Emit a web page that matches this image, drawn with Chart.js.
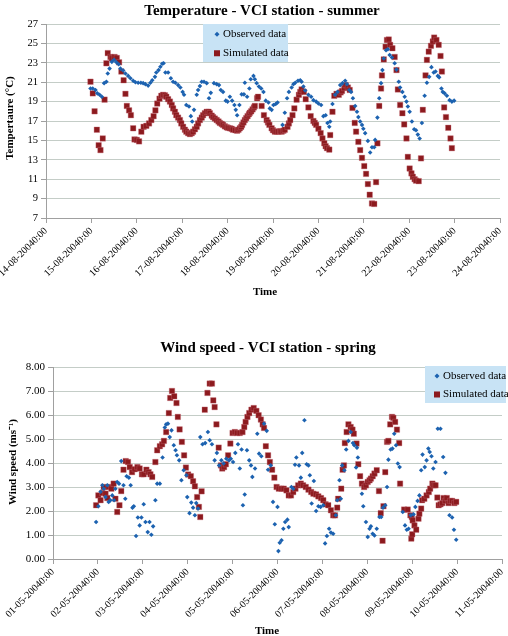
<!DOCTYPE html>
<html>
<head>
<meta charset="utf-8">
<script src="https://cdn.jsdelivr.net/npm/chart.js@4.4.1/dist/chart.umd.min.js"></script>
<style>
html,body{margin:0;padding:0;background:#fff;}
.box{position:absolute;left:0;width:508px;height:318px;}
canvas{display:block;}
</style>
</head>
<body>
<div class="box" style="top:0"><canvas id="c1" width="508" height="318"></canvas></div>
<div class="box" style="top:318px"><canvas id="c2" width="508" height="318"></canvas></div>
<script>
// ---------- DATA ----------
const seriesNames = ['Observed data', 'Simulated data'];

// Top chart: x = days after 14-08-2004 0:00, y = temperature (°C)
const tempTickLabels = ['14-08-20040:00','15-08-20040:00','16-08-20040:00','17-08-20040:00','18-08-20040:00','19-08-20040:00','20-08-20040:00','21-08-20040:00','22-08-20040:00','23-08-20040:00','24-08-20040:00'];
const tempObserved = [[0.98,20.35],[1.03,20.35],[1.09,20.2],[1.13,19.85],[1.18,19.7],[1.23,19.5],[1.28,20.9],[1.33,21.05],[1.36,21.9],[1.40,22.4],[1.45,23.1],[1.50,23.3],[1.55,23.05],[1.60,22.85],[1.64,22.4],[1.70,22.2],[1.75,21.9],[1.81,21.65],[1.86,21.4],[1.92,21.15],[1.97,21.0],[2.03,20.95],[2.09,20.95],[2.14,20.9],[2.19,20.8],[2.25,20.65],[2.30,20.95],[2.34,21.2],[2.40,21.55],[2.43,22.0],[2.48,22.25],[2.52,22.6],[2.56,22.9],[2.59,22.95],[2.63,22.0],[2.69,22.0],[2.75,21.4],[2.80,21.05],[2.85,20.95],[2.91,20.7],[2.96,20.45],[3.01,20.0],[3.04,19.7],[3.09,18.65],[3.15,18.5],[3.19,17.5],[3.22,16.95],[3.26,18.15],[3.32,19.7],[3.35,20.2],[3.39,20.6],[3.43,21.05],[3.48,21.05],[3.54,20.9],[3.59,19.35],[3.63,19.9],[3.70,20.9],[3.76,20.8],[3.81,20.7],[3.85,20.2],[3.90,20.0],[3.96,19.1],[4.00,19.0],[4.05,19.5],[4.10,19.1],[4.15,18.65],[4.18,18.15],[4.21,17.6],[4.26,18.65],[4.31,19.75],[4.36,19.75],[4.38,20.95],[4.43,19.5],[4.48,20.35],[4.51,21.3],[4.57,21.65],[4.60,21.3],[4.64,20.9],[4.69,20.55],[4.74,20.35],[4.79,20.0],[4.84,19.1],[4.90,18.9],[4.93,18.3],[4.97,18.15],[5.01,18.65],[5.06,18.75],[5.10,18.9],[5.21,16.6],[5.26,17.85],[5.31,19.35],[5.35,20.0],[5.41,20.45],[5.45,20.8],[5.49,20.95],[5.55,21.15],[5.60,21.2],[5.63,21.05],[5.67,20.55],[5.71,20.15],[5.78,19.7],[5.84,19.5],[5.89,19.15],[5.95,19.0],[6.00,18.8],[6.06,18.65],[6.11,17.5],[6.16,17.6],[6.20,16.8],[6.24,16.4],[6.26,16.95],[6.31,18.75],[6.37,19.7],[6.42,20.0],[6.48,20.7],[6.53,20.9],[6.59,21.15],[6.63,20.8],[6.68,20.2],[6.72,20.0],[6.76,19.35],[6.81,18.55],[6.85,17.95],[6.88,17.4],[6.92,16.95],[6.96,16.6],[6.99,16.2],[7.03,15.75],[7.09,14.95],[7.14,13.75],[7.18,14.3],[7.23,14.3],[7.25,15.05],[7.30,17.35],[7.34,19.35],[7.38,20.9],[7.41,22.25],[7.44,23.45],[7.49,24.3],[7.53,24.4],[7.57,23.8],[7.62,23.55],[7.68,22.95],[7.72,22.3],[7.77,21.05],[7.80,20.45],[7.85,20.0],[7.90,19.5],[7.94,19.0],[7.97,18.5],[8.01,17.95],[8.06,16.95],[8.11,16.15],[8.15,16.05],[8.19,15.6],[8.23,15.2],[8.28,16.8],[8.34,19.6],[8.39,20.95],[8.44,21.55],[8.49,22.55],[8.54,22.0],[8.58,22.1],[8.63,21.65],[8.66,21.5],[8.71,20.35],[8.74,20.0],[8.78,19.85],[8.83,19.6],[8.89,19.15],[8.94,19.0],[8.99,19.1]];
const tempSimulated = [[0.98,21.05],[1.03,19.85],[1.07,18.0],[1.12,16.1],[1.16,14.5],[1.20,14.0],[1.25,15.2],[1.29,19.2],[1.33,22.95],[1.36,24.0],[1.42,23.6],[1.45,23.45],[1.51,23.6],[1.56,23.5],[1.61,23.05],[1.66,22.1],[1.71,21.2],[1.75,19.8],[1.78,18.55],[1.83,18.1],[1.87,17.6],[1.92,16.25],[1.95,15.1],[2.00,15.05],[2.05,14.9],[2.10,15.9],[2.15,16.4],[2.21,16.5],[2.27,16.75],[2.32,17.1],[2.37,17.5],[2.41,18.1],[2.45,18.8],[2.50,19.3],[2.54,19.6],[2.58,19.7],[2.62,19.65],[2.65,19.5],[2.69,19.25],[2.73,19.0],[2.77,18.65],[2.80,18.3],[2.84,17.95],[2.87,17.6],[2.91,17.35],[2.95,17.1],[2.98,16.75],[3.02,16.4],[3.06,16.1],[3.09,15.9],[3.13,15.75],[3.17,15.65],[3.21,15.75],[3.24,15.9],[3.28,16.15],[3.32,16.4],[3.35,16.75],[3.39,17.1],[3.43,17.35],[3.46,17.6],[3.50,17.8],[3.54,17.95],[3.58,17.95],[3.61,17.8],[3.65,17.55],[3.68,17.4],[3.72,17.25],[3.76,17.1],[3.80,16.95],[3.83,16.8],[3.87,16.7],[3.90,16.6],[3.94,16.45],[3.98,16.35],[4.01,16.3],[4.05,16.25],[4.09,16.2],[4.12,16.1],[4.17,16.05],[4.21,16.0],[4.24,16.1],[4.27,16.25],[4.30,16.4],[4.32,16.6],[4.35,16.85],[4.38,17.1],[4.41,17.3],[4.44,17.5],[4.47,17.7],[4.49,17.85],[4.52,18.0],[4.55,18.2],[4.58,18.4],[4.60,18.55],[4.65,19.35],[4.67,19.5],[4.75,18.55],[4.80,17.6],[4.86,17.1],[4.89,16.85],[4.92,16.6],[4.97,16.25],[5.00,16.05],[5.04,15.9],[5.08,15.9],[5.12,15.9],[5.16,15.95],[5.19,15.9],[5.23,16.0],[5.26,16.1],[5.32,16.4],[5.35,16.75],[5.38,17.1],[5.43,17.6],[5.47,18.3],[5.52,19.2],[5.57,19.7],[5.60,20.0],[5.63,20.25],[5.68,20.0],[5.72,19.25],[5.78,18.4],[5.83,17.5],[5.89,17.0],[5.92,16.8],[5.95,16.6],[6.00,16.2],[6.05,15.75],[6.09,15.2],[6.13,14.7],[6.16,14.4],[6.19,14.2],[6.24,14.05],[6.26,15.55],[6.31,17.95],[6.35,19.6],[6.40,19.8],[6.45,19.7],[6.49,19.95],[6.52,20.1],[6.57,20.4],[6.60,20.7],[6.65,20.45],[6.69,20.2],[6.75,18.35],[6.80,16.8],[6.83,15.9],[6.88,14.85],[6.92,14.0],[6.96,13.2],[7.01,12.35],[7.05,11.55],[7.09,10.5],[7.13,9.4],[7.18,8.5],[7.23,8.45],[7.27,10.7],[7.30,14.7],[7.34,18.55],[7.38,20.35],[7.40,21.7],[7.44,23.35],[7.48,24.65],[7.51,25.35],[7.55,25.4],[7.58,24.85],[7.63,24.5],[7.68,23.6],[7.72,22.25],[7.75,20.25],[7.80,18.65],[7.85,17.8],[7.89,16.65],[7.94,15.2],[7.97,13.3],[8.01,12.1],[8.05,11.6],[8.08,11.25],[8.12,11.0],[8.15,10.85],[8.21,10.8],[8.26,13.15],[8.30,18.15],[8.36,21.7],[8.39,23.3],[8.43,24.15],[8.48,24.75],[8.52,25.2],[8.55,25.6],[8.60,25.35],[8.65,24.85],[8.69,23.7],[8.72,22.1],[8.77,18.4],[8.81,17.4],[8.86,16.3],[8.91,15.2],[8.94,14.2]];

// Bottom chart: x = days after 01-05-2004 0:00, y = wind speed (m/s)
const windTickLabels = ['01-05-20040:00','02-05-20040:00','03-05-20040:00','04-05-20040:00','05-05-20040:00','06-05-20040:00','07-05-20040:00','08-05-20040:00','09-05-20040:00','10-05-20040:00','11-05-20040:00'];
const windObserved = [[0.96,1.54],[1.01,2.2],[1.06,2.8],[1.10,3.07],[1.13,2.93],[1.17,2.58],[1.21,3.07],[1.24,2.38],[1.28,2.45],[1.32,2.65],[1.36,2.45],[1.39,2.93],[1.43,3.21],[1.47,3.14],[1.52,4.08],[1.57,3.07],[1.61,2.51],[1.64,3.45],[1.69,3.39],[1.73,3.07],[1.77,2.14],[1.80,2.2],[1.85,0.96],[1.89,1.73],[1.93,1.4],[1.97,1.73],[2.02,2.28],[2.06,1.54],[2.11,1.12],[2.15,1.54],[2.19,1.01],[2.23,1.36],[2.28,2.45],[2.32,3.14],[2.38,3.14],[2.44,4.23],[2.49,5.48],[2.52,5.61],[2.56,5.64],[2.60,5.08],[2.64,5.36],[2.69,4.74],[2.73,4.53],[2.76,4.32],[2.81,4.11],[2.86,3.28],[2.91,3.7],[2.97,3.49],[2.99,2.58],[3.04,1.91],[3.08,2.35],[3.12,2.14],[3.16,1.82],[3.19,2.33],[3.23,2.1],[3.28,5.08],[3.33,4.78],[3.39,4.83],[3.45,5.29],[3.49,4.95],[3.54,4.78],[3.60,4.11],[3.65,4.42],[3.70,3.9],[3.75,4.11],[3.80,3.98],[3.86,4.18],[3.92,4.11],[3.96,4.18],[4.01,4.04],[4.06,4.42],[4.12,4.78],[4.16,3.77],[4.20,4.56],[4.23,2.24],[4.27,2.69],[4.32,4.53],[4.37,4.11],[4.41,3.9],[4.44,3.42],[4.50,3.77],[4.55,5.22],[4.59,4.39],[4.64,4.28],[4.70,5.64],[4.76,5.34],[4.79,3.72],[4.85,3.9],[4.90,2.38],[4.94,1.45],[5.00,2.17],[5.02,0.33],[5.05,0.68],[5.09,0.78],[5.13,1.26],[5.17,1.54],[5.22,1.64],[5.25,1.33],[5.31,3.0],[5.35,2.93],[5.39,3.93],[5.42,4.23],[5.48,3.9],[5.52,3.39],[5.55,4.42],[5.60,5.78],[5.65,3.95],[5.69,3.9],[5.72,3.49],[5.76,2.31],[5.81,3.25],[5.86,2.0],[5.91,2.2],[5.96,2.17],[6.02,2.24],[6.06,0.65],[6.10,0.96],[6.15,1.26],[6.19,1.1],[6.24,1.05],[6.30,1.82],[6.33,2.45],[6.38,3.28],[6.41,2.51],[6.44,3.9],[6.49,3.7],[6.53,4.56],[6.58,4.92],[6.63,5.29],[6.68,4.83],[6.71,4.74],[6.75,3.81],[6.77,4.64],[6.79,4.23],[6.88,2.72],[6.91,2.2],[6.97,1.54],[7.01,0.92],[7.05,1.26],[7.08,1.36],[7.12,1.05],[7.16,0.98],[7.21,1.26],[7.27,1.75],[7.31,1.75],[7.35,2.14],[7.40,2.24],[7.44,3.0],[7.47,4.14],[7.52,4.56],[7.56,4.6],[7.60,5.22],[7.64,4.74],[7.68,3.98],[7.72,3.83],[7.79,1.96],[7.84,1.4],[7.88,1.22],[7.92,1.26],[7.97,1.82],[8.03,1.86],[8.07,2.17],[8.12,2.42],[8.16,2.65],[8.20,3.7],[8.23,4.35],[8.28,3.83],[8.32,4.11],[8.36,4.6],[8.39,4.46],[8.43,4.28],[8.47,3.77],[8.52,4.04],[8.57,5.43],[8.63,5.43],[8.69,4.25],[8.74,3.59],[8.83,1.82],[8.89,1.73],[8.93,1.22],[8.98,0.8]];
const windSimulated = [[0.96,2.24],[1.01,2.65],[1.06,2.45],[1.10,2.75],[1.13,3.0],[1.17,2.72],[1.21,2.54],[1.24,3.0],[1.30,2.93],[1.35,3.14],[1.39,2.51],[1.43,1.96],[1.48,2.24],[1.52,2.83],[1.57,3.72],[1.62,4.08],[1.67,4.04],[1.71,3.83],[1.76,3.62],[1.82,3.74],[1.88,3.83],[1.93,3.77],[1.98,3.53],[2.02,3.53],[2.08,3.72],[2.13,3.62],[2.17,3.53],[2.21,3.42],[2.28,4.04],[2.32,4.53],[2.38,4.7],[2.43,4.78],[2.47,4.92],[2.52,5.29],[2.58,6.08],[2.61,6.71],[2.65,7.0],[2.70,6.78],[2.75,6.5],[2.78,5.92],[2.82,5.4],[2.87,4.88],[2.92,4.32],[2.96,3.81],[3.01,3.52],[3.07,3.45],[3.12,3.24],[3.16,3.03],[3.21,2.58],[3.25,2.17],[3.28,1.75],[3.31,2.82],[3.38,6.22],[3.44,6.92],[3.49,7.31],[3.54,7.31],[3.57,6.61],[3.60,6.33],[3.64,5.61],[3.69,4.64],[3.74,3.9],[3.77,3.77],[3.81,3.83],[3.85,3.95],[3.90,4.32],[3.95,4.81],[4.00,5.25],[4.05,5.29],[4.10,5.25],[4.16,5.25],[4.22,5.29],[4.26,5.5],[4.29,5.71],[4.33,5.92],[4.37,6.08],[4.42,6.22],[4.47,6.29],[4.53,6.17],[4.58,5.99],[4.63,5.81],[4.67,5.61],[4.70,5.46],[4.74,4.7],[4.79,4.32],[4.83,4.04],[4.88,3.72],[4.93,3.39],[4.98,3.0],[5.03,2.93],[5.09,2.93],[5.14,2.93],[5.20,2.86],[5.25,2.65],[5.30,2.65],[5.35,2.79],[5.40,2.93],[5.46,3.07],[5.52,3.14],[5.57,3.07],[5.63,3.0],[5.69,2.89],[5.75,2.79],[5.80,2.72],[5.86,2.69],[5.91,2.61],[5.97,2.54],[6.02,2.45],[6.07,2.28],[6.13,2.24],[6.19,2.03],[6.24,1.82],[6.28,1.82],[6.33,2.14],[6.35,2.51],[6.42,2.93],[6.45,3.72],[6.48,3.9],[6.50,4.83],[6.54,5.29],[6.58,5.61],[6.63,5.5],[6.67,5.39],[6.70,5.22],[6.76,4.81],[6.80,3.95],[6.84,3.45],[6.88,3.14],[6.93,3.0],[6.97,3.07],[7.01,3.21],[7.05,3.28],[7.08,3.35],[7.12,3.45],[7.16,3.56],[7.21,3.7],[7.26,2.83],[7.30,1.91],[7.34,0.76],[7.36,2.2],[7.40,3.62],[7.44,4.88],[7.47,4.92],[7.51,5.61],[7.55,5.92],[7.58,5.88],[7.62,5.71],[7.66,5.39],[7.71,4.83],[7.73,3.14],[7.82,2.06],[7.90,2.06],[7.96,1.82],[7.98,0.85],[7.99,1.75],[8.00,1.03],[8.01,1.61],[8.05,1.4],[8.09,1.22],[8.14,1.68],[8.16,1.89],[8.20,2.1],[8.22,2.45],[8.27,2.51],[8.32,2.65],[8.37,2.79],[8.40,2.93],[8.45,3.14],[8.48,3.07],[8.52,3.07],[8.56,2.56],[8.59,2.24],[8.63,2.28],[8.67,2.33],[8.70,2.54],[8.74,2.42],[8.77,2.54],[8.81,2.33],[8.85,2.42],[8.89,2.42],[8.94,2.33],[8.98,2.38]];

// ---------- STYLE ----------
const FONT = '"Liberation Serif", "Times New Roman", serif';
const OBS_COLOR = '#1c62b0';
const SIM_COLOR = '#8c1a1e';
const GRID_COLOR = '#c4cdc7';
const AXIS_COLOR = '#a0a0a0';
const LEGEND_BG = '#c8e3f5';

const overlayPlugin = {
  id: 'overlay',
  afterDraw(chart, args, o) {
    const ctx = chart.ctx;
    ctx.save();
    ctx.fillStyle = '#000';
    ctx.textAlign = 'center';
    ctx.textBaseline = 'middle';
    ctx.font = 'bold 15px ' + FONT;
    ctx.fillText(o.title, o.titleX, o.titleY);
    ctx.font = 'bold 11px ' + FONT;
    ctx.fillText(o.xTitle, o.xTitleX, o.xTitleY);
    ctx.save();
    ctx.translate(o.yTitleX, o.yTitleY);
    ctx.rotate(-Math.PI / 2);
    ctx.fillText(o.yTitle, 0, 0);
    ctx.restore();
    // legend
    const L = o.legend;
    ctx.fillStyle = LEGEND_BG;
    ctx.fillRect(L.x, L.y, L.w, L.h);
    ctx.font = '11px ' + FONT;
    ctx.textAlign = 'left';
    ctx.fillStyle = OBS_COLOR;
    const y1 = L.y + L.h * 0.27, y2 = L.y + L.h * 0.77;
    ctx.beginPath();
    ctx.moveTo(L.mx, y1 - 2.5); ctx.lineTo(L.mx + 2.5, y1); ctx.lineTo(L.mx, y1 + 2.5); ctx.lineTo(L.mx - 2.5, y1);
    ctx.closePath(); ctx.fill();
    ctx.fillStyle = SIM_COLOR;
    ctx.fillRect(L.mx - 3, y2 - 3, 6, 6);
    ctx.fillStyle = '#000';
    ctx.fillText(seriesNames[0], L.tx, y1);
    ctx.fillText(seriesNames[1], L.tx, y2);
    ctx.restore();
  }
};

function makeChart(id, cfg) {
  const toPts = arr => arr.map(p => ({x: p[0], y: p[1]}));
  return new Chart(document.getElementById(id), {
    type: 'scatter',
    data: {
      datasets: [
        {label: seriesNames[0], data: toPts(cfg.obs), pointStyle: 'rectRot', pointRadius: 2.3,
         backgroundColor: OBS_COLOR, borderColor: OBS_COLOR, borderWidth: 0, pointHoverRadius: 2.3},
        {label: seriesNames[1], data: toPts(cfg.sim), pointStyle: 'rect', pointRadius: 3.9,
         backgroundColor: SIM_COLOR, borderColor: 'rgba(200,110,120,0.6)', borderWidth: 0.6, pointHoverRadius: 3.9}
      ]
    },
    options: {
      responsive: false,
      animation: false,
      devicePixelRatio: 1,
      events: [],
      layout: {padding: cfg.padding},
      plugins: {legend: {display: false}, tooltip: {enabled: false}, title: {display: false}, overlay: cfg.overlay},
      scales: {
        x: {
          type: 'linear', min: 0, max: 10,
          ticks: {
            stepSize: 1, autoSkip: false, minRotation: 45, maxRotation: 45, padding: 2,
            color: '#000', font: {family: FONT, size: 10},
            callback: v => cfg.tickLabels[v]
          },
          grid: {drawOnChartArea: false, drawTicks: true, tickLength: 5, tickColor: AXIS_COLOR, color: AXIS_COLOR},
          border: {color: AXIS_COLOR},
          afterFit: s => { s.height = cfg.xHeight; s.paddingLeft = 0; s.paddingRight = 0; }
        },
        y: {
          min: cfg.yMin, max: cfg.yMax,
          ticks: {stepSize: cfg.yStep, color: '#000', padding: 3, font: {family: FONT, size: cfg.yFont},
                  callback: v => cfg.yFmt(v)},
          grid: {color: GRID_COLOR, tickColor: AXIS_COLOR, tickLength: 5},
          border: {color: AXIS_COLOR},
          afterFit: s => { s.width = cfg.yWidth; }
        }
      }
    },
    plugins: [overlayPlugin]
  });
}

makeChart('c1', {
  obs: tempObserved, sim: tempSimulated, tickLabels: tempTickLabels,
  yMin: 7, yMax: 27, yStep: 2, yFont: 10.5, yFmt: v => String(v),
  yWidth: 46, xHeight: 100,
  padding: {top: 24, right: 8, bottom: 0, left: 0},
  overlay: {
    title: 'Temperature - VCI station - summer', titleX: 262, titleY: 11,
    xTitle: 'Time', xTitleX: 265, xTitleY: 292,
    yTitle: 'Tempertaure (°C)', yTitleX: 10, yTitleY: 118,
    legend: {x: 203, y: 24, w: 85, h: 38, mx: 217, tx: 223}
  }
});

makeChart('c2', {
  obs: windObserved, sim: windSimulated, tickLabels: windTickLabels,
  yMin: 0, yMax: 8, yStep: 1, yFont: 11, yFmt: v => v.toFixed(2),
  yWidth: 53, xHeight: 77,
  padding: {top: 49, right: 6, bottom: 0, left: 0},
  overlay: {
    title: 'Wind speed - VCI station - spring', titleX: 268, titleY: 30,
    xTitle: 'Time', xTitleX: 267, xTitleY: 313,
    yTitle: 'Wind speed (ms\u207B\u00B9)', yTitleX: 13, yTitleY: 144,
    legend: {x: 425, y: 48, w: 81, h: 37, mx: 437, tx: 443}
  }
});
</script>
</body>
</html>
